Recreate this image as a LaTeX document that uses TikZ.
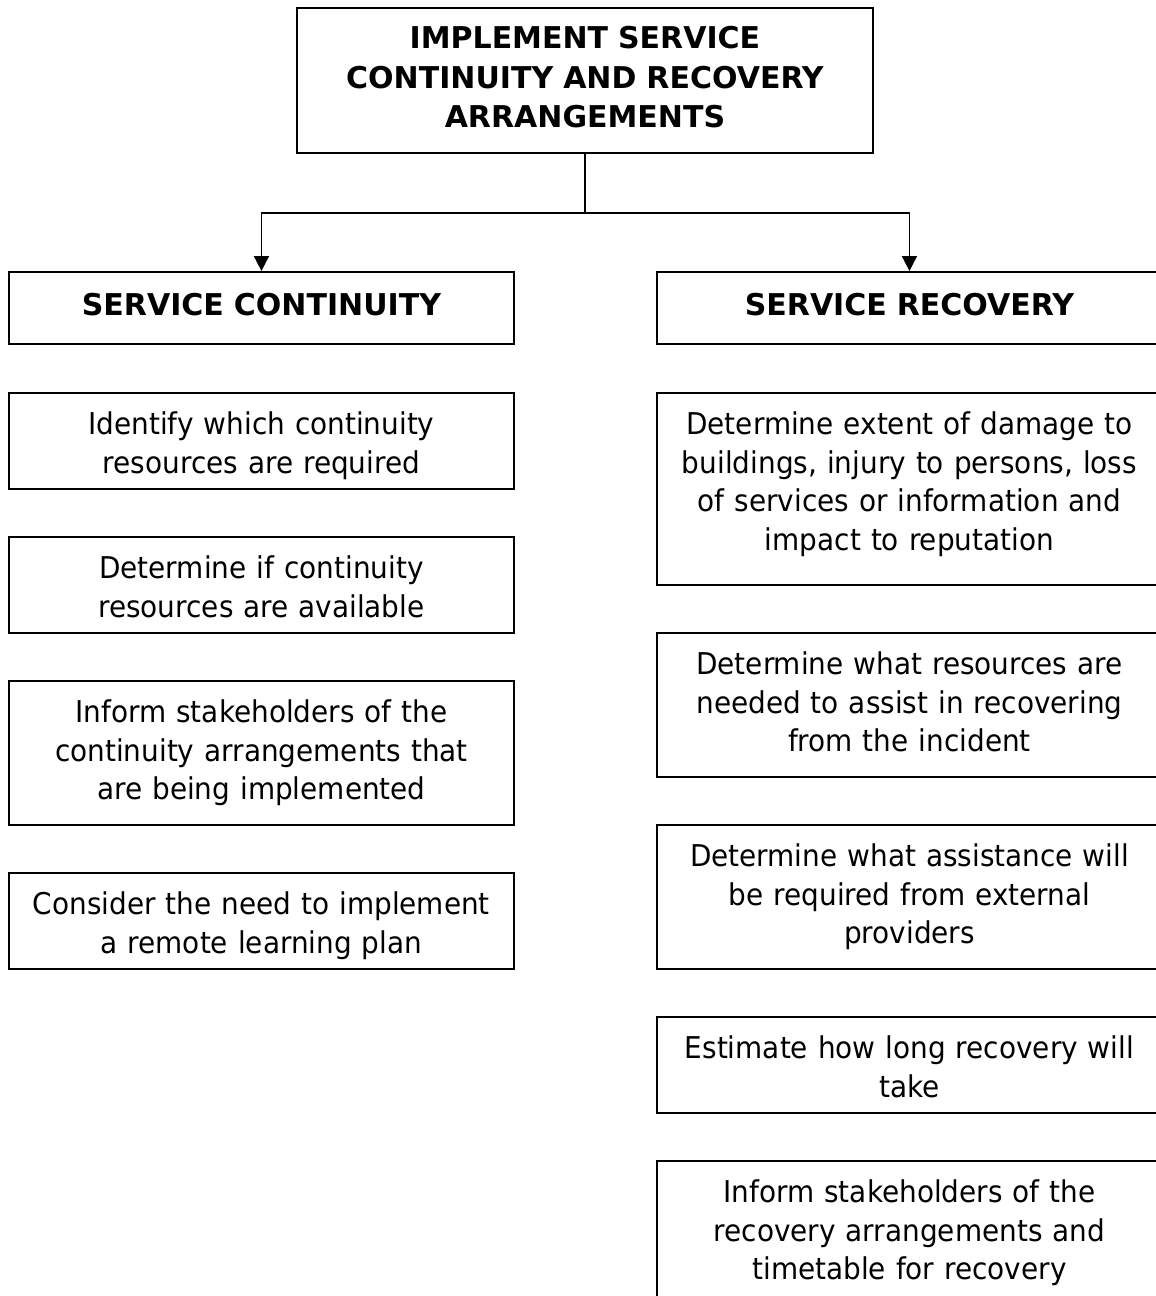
\documentclass[tikz,border=0pt]{standalone}
\usepackage{fontspec}
\setmainfont{DejaVu Sans}
\newfontfamily\bodyfont[FakeStretch=0.93]{DejaVu Sans}
\usetikzlibrary{arrows.meta,calc}
\tikzset{
  boxbase/.style={draw, line width=1.9pt, inner sep=0pt, align=center, anchor=north west},
  bodybox/.style={boxbase, minimum width=505pt, text width=495pt, text height=42pt,
    font=\bodyfont\fontsize{30pt}{38.5pt}\selectfont},
  headbox/.style={boxbase, minimum width=505pt, text width=495pt, text height=44pt, text depth=28pt,
    font=\fontsize{30pt}{38.5pt}\selectfont\bfseries},
  titlebox/.style={boxbase, minimum width=576pt, text width=566pt, text height=41pt, text depth=104pt,
    font=\fontsize{30pt}{39.5pt}\selectfont\bfseries},
  conn/.style={line width=1.9pt},
  arr/.style={conn, -{Triangle[length=15pt,width=15pt]}}
}
\begin{document}
\begin{tikzpicture}[x=1pt,y=-1pt]
\useasboundingbox (0,0) rectangle (1156,1296);
\clip (0,0) rectangle (1156,1296);
\node[titlebox] (title) at (296,7) {IMPLEMENT SERVICE\\CONTINUITY AND RECOVERY\\ARRANGEMENTS};
\node[headbox] (sc) at (8,271) {SERVICE CONTINUITY};
\node[headbox] (sr) at (656,271) {SERVICE RECOVERY};
% left column
\node[bodybox, text depth=54pt] (l1) at (8,392) {Identify which continuity\\resources are required};
\node[bodybox, text depth=54pt] (l2) at (8,536) {Determine if continuity\\resources are available};
\node[bodybox, text depth=102pt] (l3) at (8,680) {Inform stakeholders of the\\continuity arrangements that\\are being implemented};
\node[bodybox, text depth=54pt] (l4) at (8,872) {Consider the need to implement\\a remote learning plan};
% right column
\node[bodybox, text depth=150pt] (r1) at (656,392) {Determine extent of damage to\\buildings, injury to persons, loss\\of services or information and\\impact to reputation};
\node[bodybox, text depth=102pt] (r2) at (656,632) {Determine what resources are\\needed to assist in recovering\\from the incident};
\node[bodybox, text depth=102pt] (r3) at (656,824) {Determine what assistance will\\be required from external\\providers};
\node[bodybox, text depth=54pt] (r4) at (656,1016) {Estimate how long recovery will\\take};
\node[bodybox, text depth=102pt] (r5) at (656,1160) {Inform stakeholders of the\\recovery arrangements and\\timetable for recovery};
% connectors
\coordinate (j) at ($(title.south)+(0,59)$);
\draw[conn] (title.south) -- (j);
\draw[arr] (j) -| (sc.north);
\draw[arr] (j) -| (sr.north);
\end{tikzpicture}
\end{document}
